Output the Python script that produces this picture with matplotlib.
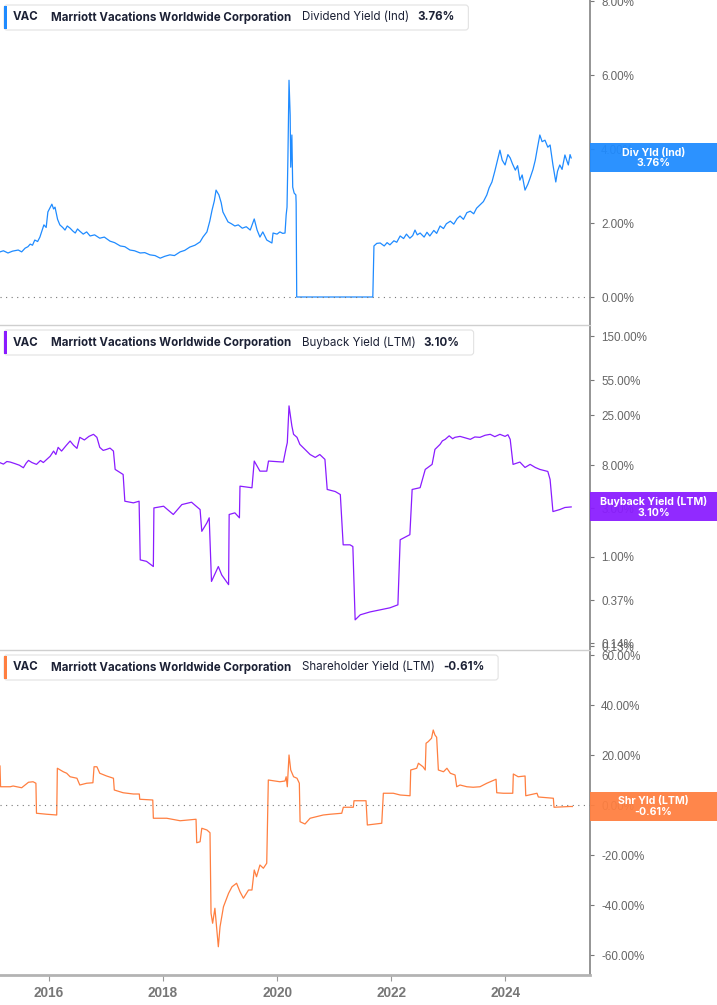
import matplotlib
matplotlib.use("Agg")
import matplotlib.pyplot as plt
from matplotlib.patches import Rectangle, FancyBboxPatch
from matplotlib.ticker import FuncFormatter, NullLocator
from matplotlib.transforms import IdentityTransform

plt.rcParams['font.family'] = ['Liberation Sans', 'DejaVu Sans']

# ---- data (decimal years, % values) ----
div_years = [2015.14, 2015.20, 2015.28, 2015.36, 2015.46, 2015.52, 2015.58, 2015.63, 2015.67, 2015.71,
             2015.75, 2015.80, 2015.84, 2015.91, 2015.95, 2015.98, 2016.05, 2016.08, 2016.105, 2016.15,
             2016.19, 2016.24, 2016.28, 2016.32, 2016.37, 2016.42, 2016.46, 2016.50, 2016.54, 2016.60,
             2016.66, 2016.72, 2016.80, 2016.89, 2016.97, 2017.07, 2017.15, 2017.25, 2017.33, 2017.42,
             2017.50, 2017.60, 2017.68, 2017.77, 2017.86, 2017.95, 2018.03, 2018.12, 2018.20, 2018.30,
             2018.38, 2018.47, 2018.56, 2018.65, 2018.70, 2018.77, 2018.82, 2018.86, 2018.90, 2018.93,
             2018.98, 2019.02, 2019.05, 2019.10, 2019.14, 2019.20, 2019.26, 2019.32, 2019.39, 2019.46,
             2019.53, 2019.60, 2019.65, 2019.70, 2019.75, 2019.82, 2019.91, 2019.93, 2020.00, 2020.05,
             2020.10, 2020.14, 2020.16, 2020.175, 2020.19, 2020.21, 2020.23, 2020.24, 2020.26, 2020.275,
             2020.30, 2020.33, 2020.335, 2020.345, 2021.68, 2021.70, 2021.75, 2021.81, 2021.88, 2021.93,
             2021.98, 2022.05, 2022.10, 2022.16, 2022.22, 2022.27, 2022.33, 2022.38, 2022.42, 2022.46,
             2022.51, 2022.58, 2022.63, 2022.68, 2022.75, 2022.80, 2022.86, 2022.92, 2022.97, 2023.04,
             2023.10, 2023.16, 2023.21, 2023.27, 2023.33, 2023.39, 2023.45, 2023.50, 2023.56, 2023.62,
             2023.68, 2023.72, 2023.77, 2023.82, 2023.86, 2023.91, 2023.95, 2024.00, 2024.05, 2024.09,
             2024.13, 2024.18, 2024.22, 2024.26, 2024.30, 2024.35, 2024.40, 2024.44, 2024.49, 2024.53,
             2024.57, 2024.61, 2024.65, 2024.70, 2024.75, 2024.79, 2024.84, 2024.89, 2024.92, 2024.96,
             2025.00, 2025.05, 2025.08, 2025.11, 2025.14, 2025.16]
div_values = [1.22, 1.25, 1.19, 1.24, 1.27, 1.22, 1.32, 1.36, 1.43, 1.40,
              1.54, 1.50, 1.62, 1.95, 1.88, 2.30, 2.51, 2.38, 2.43, 2.10,
              1.95, 1.88, 1.81, 1.92, 1.86, 1.78, 1.73, 1.84, 1.78, 1.70,
              1.76, 1.65, 1.68, 1.59, 1.62, 1.51, 1.47, 1.38, 1.36, 1.27,
              1.25, 1.19, 1.20, 1.14, 1.12, 1.05, 1.10, 1.14, 1.12, 1.22,
              1.26, 1.35, 1.40, 1.49, 1.62, 1.76, 2.05, 2.35, 2.60, 2.89,
              2.76, 2.55, 2.30, 2.15, 2.03, 1.98, 1.92, 1.95, 1.86, 1.90,
              1.81, 2.11, 1.81, 1.62, 1.76, 1.54, 1.46, 1.73, 1.70, 1.76,
              1.72, 1.73, 2.22, 2.43, 3.70, 5.86, 4.92, 3.51, 4.38, 2.97,
              2.81, 2.76, 2.54, 0.0, 0.0, 1.38, 1.45, 1.46, 1.38, 1.47,
              1.41, 1.52, 1.48, 1.65, 1.58, 1.70, 1.59, 1.66, 1.81, 1.68,
              1.73, 1.62, 1.75, 1.65, 1.80, 1.72, 1.92, 1.85, 1.98, 2.05,
              1.97, 2.12, 2.19, 2.10, 2.28, 2.32, 2.25, 2.40, 2.49, 2.58,
              2.76, 2.95, 3.11, 3.40, 3.65, 3.97, 3.70, 3.57, 3.85, 3.76,
              3.60, 3.43, 3.55, 3.16, 3.30, 2.89, 3.05, 3.22, 3.45, 3.70,
              4.05, 4.38, 4.20, 4.24, 4.05, 4.11, 3.57, 3.11, 3.40, 3.57,
              3.45, 3.84, 3.70, 3.57, 3.85, 3.76]

bb_years = [2015.14, 2015.20, 2015.26, 2015.32, 2015.40, 2015.48, 2015.55, 2015.60, 2015.64, 2015.70,
            2015.78, 2015.85, 2015.90, 2015.96, 2016.02, 2016.08, 2016.12, 2016.16, 2016.22, 2016.30,
            2016.37, 2016.43, 2016.49, 2016.54, 2016.62, 2016.70, 2016.78, 2016.84, 2016.89, 2016.95,
            2017.01, 2017.07, 2017.13, 2017.16, 2017.30, 2017.33, 2017.48, 2017.58, 2017.60, 2017.71,
            2017.83, 2017.84, 2018.01, 2018.18, 2018.33, 2018.50, 2018.65, 2018.68, 2018.77, 2018.81,
            2018.85, 2018.97, 2019.03, 2019.15, 2019.16, 2019.26, 2019.34, 2019.35, 2019.56, 2019.60,
            2019.70, 2019.82, 2019.85, 2020.11, 2020.16, 2020.18, 2020.21, 2020.26, 2020.29, 2020.35,
            2020.40, 2020.49, 2020.58, 2020.67, 2020.75, 2020.84, 2020.88, 2021.02, 2021.11, 2021.16,
            2021.28, 2021.33, 2021.37, 2021.46, 2021.63, 2021.81, 2021.98, 2022.12, 2022.16, 2022.33,
            2022.37, 2022.51, 2022.60, 2022.72, 2022.77, 2022.86, 2022.90, 2022.95, 2023.02, 2023.08,
            2023.12, 2023.21, 2023.30, 2023.39, 2023.47, 2023.56, 2023.65, 2023.74, 2023.82, 2023.91,
            2024.00, 2024.05, 2024.09, 2024.14, 2024.26, 2024.35, 2024.44, 2024.53, 2024.61, 2024.75,
            2024.79, 2024.84, 2024.96, 2025.05, 2025.16]
bb_values = [8.47, 8.2, 8.7, 8.59, 8.3, 8.0, 7.55, 8.4, 8.92, 8.5,
             8.15, 8.9, 8.5, 9.13, 9.8, 11.03, 10.2, 12.0, 11.03, 12.5,
             13.86, 12.6, 11.73, 15.07, 14.2, 15.4, 16.14, 15.07, 12.0, 11.2,
             11.46, 11.8, 11.03, 7.27, 6.48, 3.53, 3.40, 3.53, 0.93, 0.90,
             0.80, 3.03, 3.15, 2.61, 3.27, 3.45, 2.92, 1.78, 2.16, 2.42,
             0.57, 0.80, 0.66, 0.53, 2.61, 2.71, 2.42, 4.97, 4.79, 8.79,
             6.99, 6.99, 8.79, 8.59, 11.92, 13.36, 30.8, 19.5, 16.14, 15.07,
             12.85, 11.46, 10.2, 9.55, 10.2, 9.13, 4.61, 4.40, 4.11, 1.31,
             1.31, 1.26, 0.238, 0.267, 0.285, 0.299, 0.313, 0.335, 1.47, 1.65,
             4.61, 4.8, 7.27, 8.15, 11.46, 12.85, 13.9, 14.4, 15.6, 14.6,
             15.07, 15.4, 14.9, 14.4, 15.2, 15.07, 15.8, 16.14, 15.3, 16.14,
             15.4, 16.0, 14.4, 8.15, 8.59, 7.60, 8.15, 7.60, 7.27, 6.94,
             5.78, 2.79, 2.92, 3.06, 3.10]

sh_years = [2015.14, 2015.15, 2015.32, 2015.37, 2015.52, 2015.64, 2015.72, 2015.77, 2015.78, 2015.96,
            2016.135, 2016.146, 2016.25, 2016.31, 2016.37, 2016.49, 2016.54, 2016.66, 2016.77, 2016.79,
            2016.84, 2016.89, 2017.01, 2017.13, 2017.145, 2017.30, 2017.48, 2017.584, 2017.591, 2017.82,
            2017.83, 2018.065, 2018.30, 2018.579, 2018.591, 2018.65, 2018.68, 2018.77, 2018.824, 2018.842,
            2018.87, 2018.91, 2018.97, 2019.00, 2019.06, 2019.15, 2019.21, 2019.29, 2019.35, 2019.41,
            2019.50, 2019.56, 2019.60, 2019.64, 2019.70, 2019.76, 2019.819, 2019.847, 2020.05, 2020.14,
            2020.16, 2020.18, 2020.21, 2020.24, 2020.29, 2020.35, 2020.391, 2020.404, 2020.49, 2020.58,
            2020.81, 2020.93, 2021.135, 2021.163, 2021.338, 2021.350, 2021.561, 2021.584, 2021.837, 2021.865,
            2022.04, 2022.16, 2022.333, 2022.345, 2022.45, 2022.48, 2022.56, 2022.60, 2022.614, 2022.65,
            2022.71, 2022.74, 2022.77, 2022.80, 2022.83, 2022.92, 2022.98, 2023.04, 2023.123, 2023.152,
            2023.21, 2023.33, 2023.44, 2023.56, 2023.68, 2023.842, 2023.854, 2023.97, 2024.135, 2024.145,
            2024.23, 2024.351, 2024.363, 2024.56, 2024.584, 2024.847, 2024.859, 2025.14, 2025.18]
sh_values = [15.6, 7.3, 7.3, 7.6, 6.9, 9.1, 9.3, 8.7, -3.3, -3.7,
             -4.0, 14.7, 13.3, 12.7, 11.3, 10.7, 8.0, 8.7, 8.9, 15.3,
             15.3, 12.7, 11.6, 10.7, 6.0, 4.9, 4.4, 4.4, 2.3, 2.0,
             -5.3, -5.3, -6.3, -5.7, -15.1, -14.7, -9.3, -10.0, -11.1, -43.3,
             -47.3, -41.3, -56.7, -48.7, -40.7, -35.3, -32.7, -31.3, -34.7, -37.3,
             -34.0, -34.0, -26.0, -28.7, -24.0, -25.3, -23.3, 10.0, 9.3, 9.6,
             11.3, 7.3, 20.0, 14.0, 11.3, 10.7, 8.7, -6.7, -7.6, -5.3,
             -4.0, -3.7, -3.3, -0.9, -0.9, 1.7, 1.7, -8.0, -7.3, 4.7,
             4.7, 4.0, 3.7, 14.0, 14.7, 16.7, 15.3, 14.0, 24.7, 25.3,
             26.7, 30.0, 28.0, 27.1, 14.0, 13.3, 14.7, 12.7, 12.0, 7.3,
             8.0, 7.3, 7.1, 7.3, 8.7, 10.3, 4.9, 4.7, 4.7, 12.4,
             11.3, 11.6, 3.7, 4.7, 3.2, 2.7, -0.9, -0.6, -0.61]

year_ticks = [2016, 2018, 2020, 2022, 2024]
div_ticks = [0, 2, 4, 6, 8]
bb_ticks = [150, 55, 25, 8, 3, 1, 0.37, 0.14, 0.13]
sh_ticks = [60, 40, 20, 0, -20, -40, -60]

BLUE = '#1f8bff'
PURPLE = '#8a1cff'
ORANGE = '#ff7f40'
TEXT = '#1c2135'

# ---- figure / layout (pixels) ----
W, H = 717, 1005
AX_RIGHT = 590
XMIN, XMAX = 2015.14, 2025.49

fig = plt.figure(figsize=(W / 100, H / 100), dpi=100)


def make_axes(top, bottom):
    ax = fig.add_axes([0, 1 - bottom / H, AX_RIGHT / W, (bottom - top) / H])
    ax.patch.set_alpha(0)
    for s in ['left', 'top', 'bottom']:
        ax.spines[s].set_visible(False)
    ax.spines['right'].set_color('#8c8c8c')
    ax.spines['right'].set_linewidth(1.3)
    ax.yaxis.tick_right()
    ax.tick_params(axis='y', direction='out', length=3, width=0.8, color='#777777',
                   labelcolor='#666666', labelsize=8.4, pad=5)
    ax.set_xlim(XMIN, XMAX)
    ax.set_xticks([])
    return ax


pct = FuncFormatter(lambda v, p: '{:.2f}%'.format(v))

ax1 = make_axes(0, 325)
ax2 = make_axes(325, 650)
ax3 = make_axes(650, 975)

# dividend yield
ax1.plot(div_years, div_values, color=BLUE, lw=0.9)
ax1.axhline(0, color='#777777', lw=0.8, ls=(0, (1, 4)))
ax1.set_ylim(-0.757, 8.03)
ax1.set_yticks(div_ticks)
ax1.yaxis.set_major_formatter(pct)

# buyback yield (log scale)
ax2.plot(bb_years, bb_values, color=PURPLE, lw=0.9)
ax2.set_yscale('log')
ax2.set_ylim(0.120, 193.6)
ax2.set_yticks(bb_ticks)
ax2.yaxis.set_minor_locator(NullLocator())
ax2.yaxis.set_major_formatter(pct)

# shareholder yield
ax3.plot(sh_years, sh_values, color=ORANGE, lw=0.9)
ax3.axhline(0, color='#777777', lw=0.8, ls=(0, (1, 4)))
ax3.set_ylim(-68, 62)
ax3.set_yticks(sh_ticks)
ax3.yaxis.set_major_formatter(pct)

for ax in (ax2, ax3):
    ax.spines['top'].set_visible(True)
    ax.spines['top'].set_color('#cfcfcf')
    ax.spines['top'].set_linewidth(1)

ax3.spines['bottom'].set_visible(True)
ax3.spines['bottom'].set_color('#b3b3b3')
ax3.spines['bottom'].set_linewidth(2)
ax3.set_xticks(year_ticks)
ax3.set_xticklabels([str(y) for y in year_ticks])
ax3.tick_params(axis='x', direction='out', length=4, width=0.8, color='#999999',
                labelcolor='#777777', labelsize=9.8, pad=4)
for lbl in ax3.get_xticklabels():
    lbl.set_fontweight('bold')


# right-hand value boxes
def value_box(ax, value, label, color):
    y = ax.transData.transform((XMAX, value))[1]
    fig.add_artist(Rectangle((AX_RIGHT, y - 14.5), W - AX_RIGHT, 29, transform=IdentityTransform(),
                             facecolor=color, edgecolor='none', alpha=0.94, zorder=5))
    fig.text((AX_RIGHT + W) / 2 / W, y / H, label, ha='center', va='center', color='white',
             fontsize=7.6, fontweight='bold', family=['Inter', 'DejaVu Sans'],
             linespacing=1.1, zorder=6)


value_box(ax1, div_values[-1], 'Div Yld (Ind)\n{:.2f}%'.format(div_values[-1]), BLUE)
value_box(ax2, bb_values[-1], 'Buyback Yield (LTM)\n{:.2f}%'.format(bb_values[-1]), PURPLE)
value_box(ax3, sh_values[-1], 'Shr Yld (LTM)\n{:.2f}%'.format(sh_values[-1]), ORANGE)

# top-left legend boxes
renderer = fig.canvas.get_renderer()


def legend_box(top, color, metric, value):
    yc = H - (top + 17.5)
    x = 13
    pieces = [('VAC', 'bold', 12), ('Marriott Vacations Worldwide Corporation', 'bold', 11),
              (metric, 'normal', 8), (value, 'bold', 0)]
    for txt, weight, gap in pieces:
        t = fig.text(x / W, yc / H, txt, ha='left', va='center', fontsize=8.3, fontweight=weight,
                     family=['Inter', 'DejaVu Sans'], color=TEXT, zorder=7)
        bb = t.get_window_extent(renderer)
        x = bb.x1 + gap
    right = x + 14
    fig.add_artist(FancyBboxPatch((4, H - (top + 30)), right - 4, 25,
                                  boxstyle='round,pad=0,rounding_size=3', transform=IdentityTransform(),
                                  facecolor='white', edgecolor='#e2e2e2', lw=0.8, zorder=5))
    fig.add_artist(Rectangle((4, H - (top + 29)), 3, 23, transform=IdentityTransform(),
                             facecolor=color, edgecolor='none', zorder=6))


legend_box(0, BLUE, 'Dividend Yield (Ind)', '{:.2f}%'.format(div_values[-1]))
legend_box(325, PURPLE, 'Buyback Yield (LTM)', '{:.2f}%'.format(bb_values[-1]))
legend_box(650, ORANGE, 'Shareholder Yield (LTM)', '{:.2f}%'.format(sh_values[-1]))

fig.savefig('out.png', dpi=100)
